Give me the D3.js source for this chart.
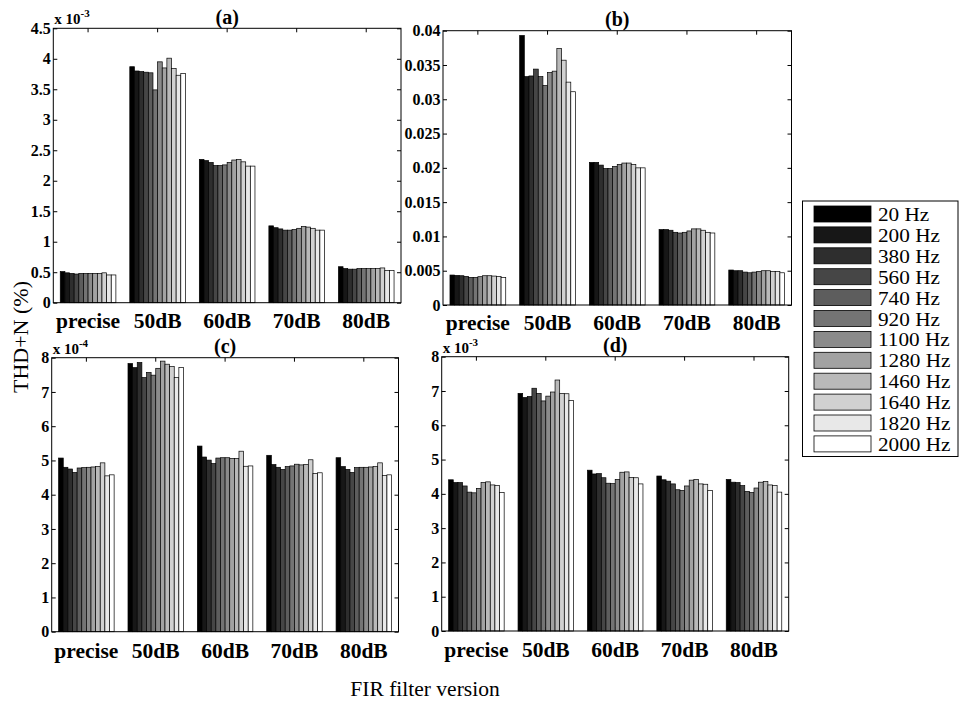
<!DOCTYPE html>
<html>
<head>
<meta charset="utf-8">
<script src="https://cdn.jsdelivr.net/npm/d3@7"></script>
<style>
  body { margin: 0; background: #fff; }
  svg { display: block; font-family: "Liberation Serif", "Times New Roman", serif; }
</style>
</head>
<body>
<svg id="thd-chart" width="960" height="702"></svg>
<script>
const categories = ["precise", "50dB", "60dB", "70dB", "80dB"];
const freqs = ["20 Hz", "200 Hz", "380 Hz", "560 Hz", "740 Hz", "920 Hz",
  "1100 Hz", "1280 Hz", "1460 Hz", "1640 Hz", "1820 Hz", "2000 Hz"];

// (a) values in units of 10^-3 %
const thdA = [
  [0.51, 0.49, 0.48, 0.47, 0.48, 0.48, 0.48, 0.48, 0.48, 0.49, 0.455, 0.455],
  [3.87, 3.80, 3.79, 3.78, 3.77, 3.49, 3.95, 3.85, 4.01, 3.84, 3.73, 3.76],
  [2.35, 2.33, 2.30, 2.25, 2.25, 2.26, 2.30, 2.34, 2.35, 2.31, 2.24, 2.24],
  [1.26, 1.23, 1.21, 1.19, 1.19, 1.20, 1.22, 1.25, 1.24, 1.22, 1.19, 1.19],
  [0.59, 0.56, 0.55, 0.55, 0.56, 0.56, 0.56, 0.56, 0.56, 0.57, 0.53, 0.53]
];
// (b) values in %
const thdB = [
  [0.00437, 0.00432, 0.00427, 0.00417, 0.00403, 0.00403, 0.00413, 0.00427, 0.00427, 0.00422, 0.00417, 0.00403],
  [0.0393, 0.0333, 0.0334, 0.0344, 0.0333, 0.0320, 0.0339, 0.0341, 0.0374, 0.0357, 0.0325, 0.0311],
  [0.0208, 0.0208, 0.0204, 0.0199, 0.0199, 0.0202, 0.0205, 0.0207, 0.0207, 0.0205, 0.0200, 0.0200],
  [0.0110, 0.0110, 0.0109, 0.0106, 0.0105, 0.0106, 0.0108, 0.0111, 0.0111, 0.0109, 0.0106, 0.0105],
  [0.0051, 0.0050, 0.0050, 0.0048, 0.0047, 0.0048, 0.0049, 0.0050, 0.0050, 0.0049, 0.0049, 0.0047]
];
// (c) values in units of 10^-4 %
const thdC = [
  [5.07, 4.80, 4.75, 4.65, 4.78, 4.79, 4.80, 4.81, 4.82, 4.93, 4.55, 4.58],
  [7.83, 7.71, 7.86, 7.42, 7.57, 7.49, 7.69, 7.90, 7.81, 7.74, 7.42, 7.71],
  [5.42, 5.10, 5.01, 4.91, 5.07, 5.08, 5.08, 5.06, 5.06, 5.27, 4.83, 4.84],
  [5.15, 4.88, 4.80, 4.74, 4.82, 4.84, 4.89, 4.87, 4.88, 5.02, 4.62, 4.64],
  [5.08, 4.82, 4.74, 4.65, 4.79, 4.80, 4.80, 4.81, 4.82, 4.93, 4.56, 4.58]
];
// (d) values in units of 10^-3 %
const thdD = [
  [4.41, 4.33, 4.33, 4.23, 4.05, 4.03, 4.16, 4.33, 4.35, 4.26, 4.24, 4.04],
  [6.93, 6.81, 6.84, 7.08, 6.93, 6.71, 6.85, 6.97, 7.32, 6.93, 6.92, 6.72],
  [4.69, 4.58, 4.59, 4.47, 4.31, 4.30, 4.42, 4.63, 4.64, 4.48, 4.47, 4.29],
  [4.52, 4.41, 4.37, 4.29, 4.12, 4.10, 4.23, 4.40, 4.42, 4.29, 4.28, 4.10],
  [4.42, 4.34, 4.33, 4.24, 4.07, 4.04, 4.17, 4.34, 4.36, 4.26, 4.24, 4.05]
];

const svg = d3.select("#thd-chart");
const serif = "'Liberation Serif', 'Times New Roman', serif";
const color = d3.scaleLinear().domain([0, freqs.length - 1]).range(["#000", "#fff"]);

// labelPad: top row sits close to the bottom row's titles
const panels = [
  { title: "(a)", data: thdA, yMax: 4.5, nTicks: 9, exp: "-3", labelPad: 10, x0: 53.3, x1: 401, y0: 28.3, y1: 302.7 },
  { title: "(b)", data: thdB, yMax: 0.04, nTicks: 8, exp: null, labelPad: 9.5, x0: 443, x1: 791.5, y0: 30.7, y1: 305 },
  { title: "(c)", data: thdC, yMax: 8, nTicks: 8, exp: "-4", labelPad: 11, x0: 51.7, x1: 398.5, y0: 357.7, y1: 631.7 },
  { title: "(d)", data: thdD, yMax: 8, nTicks: 8, exp: "-3", labelPad: 11, x0: 441.7, x1: 788.7, y0: 356.7, y1: 631 }
];

panels.forEach((p) => {
  const x = d3.scaleBand().domain(categories).range([p.x0, p.x1])
    .paddingInner(0.2).paddingOuter(0.1);
  const xIn = d3.scaleBand().domain(freqs).range([0, x.bandwidth()]);
  const y = d3.scaleLinear().domain([0, p.yMax]).range([p.y1, p.y0]);
  const yTicks = d3.ticks(0, p.yMax, p.nTicks);
  const fmt = d3.format("~g");

  // bottom ticks first (hidden under bars, like the original)
  svg.append("g")
    .attr("transform", `translate(0,${p.y1})`)
    .call(d3.axisBottom(x).tickSizeInner(-4).tickSizeOuter(0).tickPadding(p.labelPad))
    .call((g) => g.select(".domain").remove())
    .call((g) => g.selectAll("text")
      .attr("fill", "#000")
      .style("font-size", "21.5px").style("font-weight", "bold")
      .style("font-family", serif));

  // bars
  const groups = svg.append("g").selectAll("g")
    .data(p.data)
    .join("g")
    .attr("transform", (d, i) => `translate(${x(categories[i])},0)`);

  groups.selectAll("rect")
    .data((d) => d)
    .join("rect")
    .attr("x", (d, j) => xIn(freqs[j]))
    .attr("y", (d) => y(d))
    .attr("width", xIn.bandwidth())
    .attr("height", (d) => y(0) - y(d))
    .attr("fill", (d, j) => color(j))
    .attr("stroke", "#000")
    .attr("stroke-width", 0.7);

  // left axis with labels
  svg.append("g")
    .attr("transform", `translate(${p.x0},0)`)
    .call(d3.axisLeft(y).tickValues(yTicks).tickFormat(fmt)
      .tickSizeInner(-4).tickSizeOuter(0).tickPadding(2.5))
    .call((g) => g.select(".domain").remove())
    .call((g) => g.selectAll("text")
      .attr("fill", "#000")
      .style("font-size", "16px").style("font-weight", "bold")
      .style("font-family", serif));

  // right and top ticks
  svg.append("g")
    .attr("transform", `translate(${p.x1},0)`)
    .call(d3.axisRight(y).tickValues(yTicks).tickFormat("").tickSizeInner(-4).tickSizeOuter(0))
    .call((g) => g.select(".domain").remove());
  svg.append("g")
    .attr("transform", `translate(0,${p.y0})`)
    .call(d3.axisTop(x).tickFormat("").tickSizeInner(-4).tickSizeOuter(0))
    .call((g) => g.select(".domain").remove());

  // frame
  svg.append("rect")
    .attr("x", p.x0).attr("y", p.y0)
    .attr("width", p.x1 - p.x0).attr("height", p.y1 - p.y0)
    .attr("fill", "none").attr("stroke", "#000").attr("stroke-width", 1);

  // title
  svg.append("text")
    .attr("x", (p.x0 + p.x1) / 2)
    .attr("y", p.y0 - 4.5)
    .attr("text-anchor", "middle")
    .style("font-size", "20px").style("font-weight", "bold")
    .text(p.title);

  // exponent multiplier
  if (p.exp) {
    const m = svg.append("text")
      .attr("x", p.x0 + 1)
      .attr("y", p.y0 - 4)
      .style("font-size", "15px").style("font-weight", "bold");
    m.append("tspan").text("x 10");
    m.append("tspan").attr("dy", -7).style("font-size", "11px").text(p.exp);
  }
});

// axis labels
svg.append("text")
  .attr("transform", "translate(28,337) rotate(-90)")
  .attr("text-anchor", "middle")
  .style("font-size", "22px")
  .text("THD+N (%)");

svg.append("text")
  .attr("x", 425).attr("y", 696)
  .attr("text-anchor", "middle")
  .style("font-size", "21.5px")
  .text("FIR filter version");

// legend
const legend = svg.append("g");
legend.append("rect")
  .attr("x", 802.5).attr("y", 201)
  .attr("width", 155.5).attr("height", 255.5)
  .attr("fill", "#fff").attr("stroke", "#000").attr("stroke-width", 1);

const rowStep = 20.9;
freqs.forEach((f, j) => {
  legend.append("rect")
    .attr("x", 814).attr("y", 206 + j * rowStep)
    .attr("width", 57).attr("height", 16)
    .attr("fill", color(j))
    .attr("stroke", "#000").attr("stroke-width", 0.8);
  // the original legend text is slightly wider than tall, so stretch it a little
  legend.append("text")
    .attr("transform", `translate(878,${221 + j * rowStep}) scale(1.18,1)`)
    .style("font-size", "18px")
    .text(f);
});
</script>
</body>
</html>
